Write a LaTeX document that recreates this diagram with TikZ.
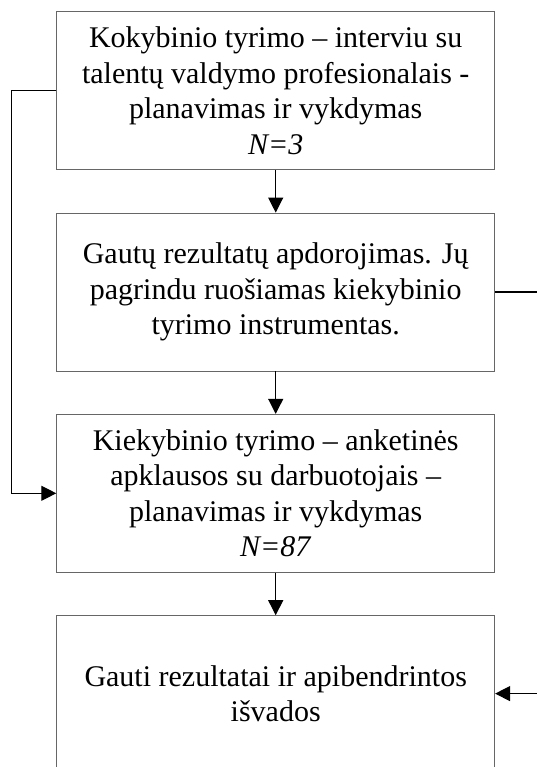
\documentclass[tikz,border=0pt]{standalone}
\usepackage{fontspec}
\setmainfont{Liberation Serif}
\usetikzlibrary{positioning,arrows.meta}
\tikzset{
  blk/.style={rectangle, minimum width=438pt, minimum height=158pt, text centered, align=center, draw=black!60, line width=0.8pt, font=\fontsize{30}{35.5}\selectfont},
  con/.style={line width=1.1pt, -{Triangle[length=15pt,width=15pt]}},
  node distance=42.5pt
}
\begin{document}
\begin{tikzpicture}[x=1pt,y=1pt]
	\useasboundingbox (0,0) rectangle (537,-767);
	\node[blk] (kokyb) at (275.7,-90.7) {Kokybinio tyrimo -- interviu su\\talentų valdymo profesionalais -\\planavimas ir vykdymas\\\textit{N=3}};
	\node[blk, below=of kokyb] (apdor) {Gautų rezultatų apdorojimas. Jų\\pagrindu ruošiamas kiekybinio\\tyrimo instrumentas.};
	\node[blk, below=of apdor] (kiekyb) {Kiekybinio tyrimo -- anketinės\\apklausos su darbuotojais --\\planavimas ir vykdymas\\\textit{N=87}};
	\node[blk, below=of kiekyb, minimum height=156pt] (isvados) {Gauti rezultatai ir apibendrintos\\išvados};
	%
	\draw[con] (kokyb) -- (apdor);
	\draw[con] (apdor) -- (kiekyb);
	\draw[con] (kiekyb) -- (isvados);
	\draw[con] (kokyb.west) -- ++(-45,0) |- (kiekyb.west);
	\draw[con] (apdor.east) -- ++(50,0) |- (isvados.east);
\end{tikzpicture}
\end{document}
